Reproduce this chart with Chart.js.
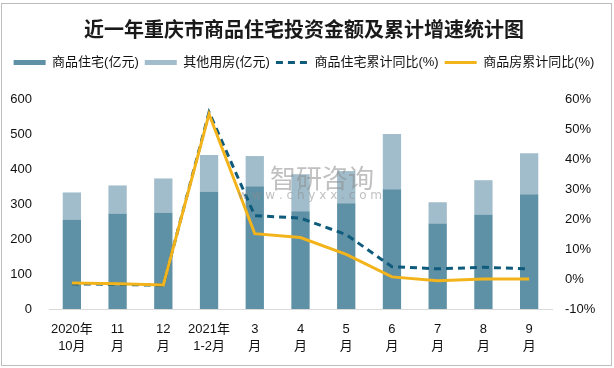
<!DOCTYPE html>
<html>
<head>
<meta charset="utf-8">
<script src="https://cdn.jsdelivr.net/npm/chart.js@4"></script>
<style>
  html, body { margin: 0; padding: 0; background: #fff; }
</style>
</head>
<body>
<canvas id="investChart" width="614" height="368"></canvas>
<script>
const months = [["2020年", "10月"], ["11", "月"], ["12", "月"], ["2021年", "1-2月"], ["3", "月"], ["4", "月"], ["5", "月"], ["6", "月"], ["7", "月"], ["8", "月"], ["9", "月"]];
const residential = [256, 273, 276, 336, 351, 279, 302, 342, 244, 270, 328];
const otherUse = [77, 80, 97, 104, 86, 106, 92, 158, 61, 98, 117];
const residentialYoY = [-1.6, -1.8, -2.1, 55.6, 21.1, 20.3, 14.8, 4.1, 3.4, 3.9, 3.4];
const housingYoY = [-1.3, -1.6, -2.0, 55.0, 15.1, 13.8, 8.2, 0.7, -0.6, 0.0, 0.0];

const mixFont = "'Liberation Sans', 'Noto Sans CJK SC'";

// legend on one row with room under it, outer frame, watermark
const decor = {
  id: "decor",
  beforeInit(chart) {
    const fit = chart.legend.fit;
    chart.legend.fit = function () {
      this.maxWidth = this.chart.width;
      fit.call(this);
      this.height += 20;
    };
  },
  afterDatasetsDraw(chart) {
    const ctx = chart.ctx;
    ctx.save();
    ctx.fillStyle = "rgba(140,140,140,0.55)";
    ctx.font = "26px 'Noto Sans CJK SC'";
    ctx.textBaseline = "middle";
    ctx.fillText("智研咨询", 270, 178);
    ctx.font = "12px 'DejaVu Sans'";
    ctx.fillText("w w w . c h y x x . c o m", 238, 196);
    ctx.restore();
  },
  afterDraw(chart) {
    const ctx = chart.ctx;
    ctx.save();
    ctx.strokeStyle = "#bdbdbd";
    ctx.lineWidth = 1;
    ctx.strokeRect(1.5, 3.5, 610, 362);
    ctx.restore();
  }
};

new Chart(document.getElementById("investChart"), {
  data: {
    labels: months,
    datasets: [
      { type: "bar", label: "商品住宅(亿元)", data: residential, backgroundColor: "#5e90a6", yAxisID: "y", order: 2, barPercentage: 0.5, categoryPercentage: 0.8 },
      { type: "bar", label: "其他用房(亿元)", data: otherUse, backgroundColor: "#a1bdcb", yAxisID: "y", order: 2, barPercentage: 0.5, categoryPercentage: 0.8 },
      { type: "line", label: "商品住宅累计同比(%)", data: residentialYoY, borderColor: "#0f5b7c", borderWidth: 3, borderDash: [7, 5], pointRadius: 0, tension: 0, yAxisID: "y1", order: 1 },
      { type: "line", label: "商品房累计同比(%)", data: housingYoY, borderColor: "#f3b31b", borderWidth: 3, pointRadius: 0, tension: 0, yAxisID: "y1", order: 0 }
    ]
  },
  options: {
    responsive: false,
    animation: false,
    layout: { padding: { left: 4, right: 10, top: 0, bottom: 12 } },
    plugins: {
      title: {
        display: true,
        text: "近一年重庆市商品住宅投资金额及累计增速统计图",
        font: { family: "'Noto Sans CJK SC'", size: 20, weight: "bold", lineHeight: 1.2 },
        color: "#1a1a1a",
        padding: { top: 17, bottom: 9 }
      },
      legend: {
        labels: {
          font: { family: mixFont, size: 13 },
          color: "#111",
          usePointStyle: true,
          pointStyleWidth: 32,
          boxHeight: 5,
          padding: 6,
          generateLabels(chart) {
            return chart.data.datasets.map((ds, i) => ({
              text: ds.label,
              datasetIndex: i,
              fillStyle: ds.type === "bar" ? ds.backgroundColor : ds.borderColor,
              strokeStyle: ds.type === "bar" ? ds.backgroundColor : ds.borderColor,
              lineWidth: ds.type === "bar" ? 0 : 3,
              lineDash: ds.borderDash || [],
              pointStyle: ds.type === "bar" ? "rect" : "line",
              fontColor: "#111"
            }));
          }
        }
      },
      tooltip: { enabled: false }
    },
    scales: {
      x: {
        stacked: true,
        grid: { display: false, drawTicks: false },
        border: { color: "#d9d9d9" },
        ticks: { font: { family: mixFont, size: 13, lineHeight: 1.38 }, color: "#111", maxRotation: 0, autoSkip: false, padding: 11 },
        afterFit(scale) {
          scale.height = 47;
          scale.paddingLeft = 0;
          scale.paddingRight = 0;
        }
      },
      y: {
        stacked: true,
        min: 0, max: 600,
        grid: { display: false, drawTicks: false },
        border: { display: false },
        ticks: { stepSize: 100, font: { family: mixFont, size: 13 }, color: "#111", padding: 17 },
        afterFit(scale) { scale.width = 45; }
      },
      y1: {
        position: "right",
        min: -10, max: 60,
        grid: { display: false, drawTicks: false },
        border: { display: false },
        ticks: { stepSize: 10, font: { family: mixFont, size: 13 }, color: "#111", padding: 13, callback: v => v + "%" },
        afterFit(scale) { scale.width = 52; }
      }
    }
  },
  plugins: [decor]
});
</script>
</body>
</html>
